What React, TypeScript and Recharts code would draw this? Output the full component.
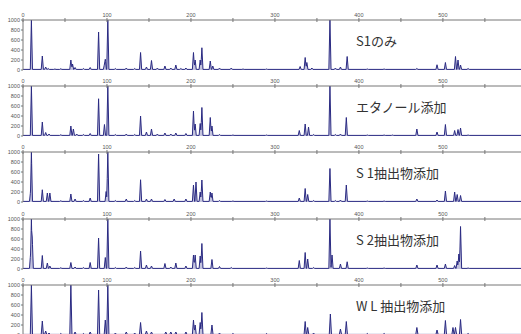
import { ComposedChart, Area, XAxis, YAxis } from 'recharts'

// peak lists: [retention position, height]
const s1OnlyPeaks: [number, number][] = [
  [10, 1000], [23, 280], [27, 60], [30, 30], [38, 20], [45, 25], [57, 200], [59, 120], [62, 50],
  [72, 30], [80, 50], [90, 760], [97, 120], [98, 215], [101, 1000], [110, 30], [123, 40], [133, 30],
  [140, 350], [147, 60], [153, 190], [160, 40], [169, 80], [176, 40], [182, 100], [188, 30], [194, 40],
  [203, 350], [205, 200], [211, 200], [213, 445], [223, 180], [226, 80], [234, 40], [248, 40], [262, 20],
  [290, 20], [330, 70], [336, 250], [338, 150], [344, 40], [365.5, 1000], [372, 40], [378, 60],
  [386, 270], [410, 20], [430, 20], [469, 30], [493, 105], [503, 150], [515, 270], [518, 200],
  [521, 100], [530, 30],
]

const ethanolPeaks: [number, number][] = [
  [10, 1000], [23, 280], [27, 70], [31, 40], [45, 25], [57, 200], [60, 140], [64, 40], [72, 30],
  [80, 50], [90, 745], [97, 230], [101, 1000], [110, 30], [123, 40], [133, 30], [140, 400], [147, 80],
  [153, 140], [160, 40], [169, 60], [176, 40], [182, 60], [194, 50], [203, 500], [205, 240], [211, 250],
  [213, 570], [223, 370], [225, 200], [234, 30], [250, 20], [290, 20], [329, 110], [336, 240], [340, 180],
  [346, 30], [365.5, 1000], [372, 30], [378, 40], [385, 370], [410, 20], [430, 20], [440, 20], [469, 140],
  [493, 80], [503, 230], [514, 110], [518, 130], [521, 160], [530, 20],
]

const s1ExtractPeaks: [number, number][] = [
  [9, 210], [10, 1000], [23, 245], [29, 180], [32, 180], [45, 25], [57, 160], [62, 60], [72, 30],
  [80, 80], [90, 960], [99, 210], [101, 1000], [110, 30], [123, 60], [133, 30], [140, 445], [147, 60],
  [153, 60], [169, 50], [180, 60], [194, 60], [203, 340], [206, 400], [211, 200], [213, 440], [223, 200],
  [225, 180], [234, 30], [250, 20], [290, 20], [329, 80], [336, 270], [339, 150], [346, 30], [365.5, 670],
  [372, 30], [378, 40], [385, 340], [410, 20], [430, 20], [469, 60], [493, 40], [503, 220], [514, 200],
  [517, 150], [521, 130],
]

const s2ExtractPeaks: [number, number][] = [
  [9, 300], [10, 1000], [11, 640], [23, 270], [29, 120], [32, 60], [45, 25], [57, 130], [62, 40],
  [72, 30], [80, 130], [90, 620], [98, 230], [101, 1000], [110, 30], [123, 40], [133, 30], [140, 360],
  [147, 80], [153, 60], [169, 110], [176, 40], [182, 120], [194, 60], [203, 280], [205, 280], [211, 260],
  [213, 510], [225, 190], [234, 50], [248, 30], [290, 20], [329, 170], [336, 330], [339, 200], [346, 30],
  [365.5, 1000], [368, 280], [378, 100], [386, 145], [410, 20], [430, 20], [469, 80], [493, 80],
  [503, 100], [514, 70], [517, 160], [519, 300], [521, 850], [530, 20],
]

const wlExtractPeaks: [number, number][] = [
  [10, 1000], [23, 280], [27, 80], [31, 40], [45, 30], [57, 1000], [62, 60], [72, 30], [80, 60],
  [90, 900], [98, 300], [101, 1000], [110, 40], [123, 60], [133, 40], [140, 250], [147, 80], [153, 60],
  [170, 60], [176, 60], [182, 60], [194, 60], [203, 300], [205, 200], [211, 250], [213, 450], [225, 200],
  [234, 40], [250, 30], [290, 30], [336, 270], [339, 150], [346, 40], [366, 420], [378, 120], [385, 270],
  [410, 30], [430, 30], [469, 150], [493, 100], [503, 290], [512, 150], [515, 150], [521, 310], [530, 30],
]

const panelLabels = ['S1のみ', 'エタノール添加', 'S 1抽出物添加', 'S 2抽出物添加', 'W L 抽出物添加']
const panelPeaks = [s1OnlyPeaks, ethanolPeaks, s1ExtractPeaks, s2ExtractPeaks, wlExtractPeaks]

const xTicks = [0, 50, 100, 150, 200, 250, 300, 350, 400, 450, 500, 550]
const yTicks = [0, 200, 400, 600, 800, 1000]

const X_MAX = 593
const BASE = 12
const HALF = 1.3
const PANEL_TOPS = [0, 66, 132, 199, 265]

// turn a peak list into a trace: each peak is a narrow spike on the baseline
function toTrace(peaks: [number, number][]) {
  const xs = new Set<number>([0, X_MAX])
  peaks.forEach(([p]) => {
    xs.add(p - HALF)
    xs.add(p)
    xs.add(p + HALF)
  })
  return [...xs]
    .sort((a, b) => a - b)
    .map((t) => {
      let v = BASE
      peaks.forEach(([p, h]) => {
        const d = Math.abs(t - p)
        if (d < HALF) v = Math.max(v, BASE + (h - BASE) * (1 - d / HALF))
      })
      return { t, v }
    })
}

function XTick({ x, y, payload }: any) {
  return (
    <g>
      <line x1={x} x2={x} y1={y - 2} y2={y + 2} stroke="#777" />
      {payload.value % 100 === 0 && (
        <text x={x} y={y - 3} textAnchor="middle" fontSize={5.5} fill="#555" fontFamily="Liberation Sans">
          {payload.value}
        </text>
      )}
    </g>
  )
}

function Panel({ peaks, label, top }: { peaks: [number, number][]; label: string; top: number }) {
  const data = toTrace(peaks)
  return (
    <div style={{ position: 'absolute', left: 0, top, width: 521, height: 74 }}>
      <ComposedChart width={521} height={74} data={data} margin={{ top: 0, right: 0, bottom: 4, left: 0 }}>
        <XAxis
          type="number"
          dataKey="t"
          orientation="top"
          domain={[0, X_MAX]}
          ticks={xTicks}
          interval={0}
          height={20}
          tickSize={0}
          tickMargin={0}
          tick={<XTick />}
          axisLine={{ stroke: '#777' }}
          allowDataOverflow
        />
        <YAxis
          type="number"
          domain={[0, 1000]}
          ticks={yTicks}
          width={23}
          tickSize={2}
          tickMargin={1}
          interval={0}
          tick={{ fontSize: 5.5, fill: '#555', fontFamily: 'Liberation Sans' }}
          axisLine={{ stroke: '#777' }}
          tickLine={{ stroke: '#777' }}
          allowDataOverflow
        />
        <Area
          type="linear"
          dataKey="v"
          stroke="#2a2a82"
          strokeWidth={1}
          fill="#b4b4d4"
          fillOpacity={0.8}
          dot={false}
          activeDot={false}
          isAnimationActive={false}
        />
      </ComposedChart>
      <div
        style={{
          position: 'absolute',
          left: 356,
          top: 34,
          fontSize: 13,
          lineHeight: 1,
          color: '#333',
          fontFamily: '"Noto Sans CJK JP", sans-serif',
          whiteSpace: 'nowrap',
        }}
      >
        {label}
      </div>
    </div>
  )
}

export default function App() {
  return (
    <div
      style={{
        position: 'absolute',
        left: 0,
        top: 0,
        width: 521,
        height: 334,
        overflow: 'hidden',
        background: '#fff',
      }}
    >
      {panelPeaks.map((p, i) => (
        <Panel key={i} peaks={p} label={panelLabels[i]} top={PANEL_TOPS[i]} />
      ))}
    </div>
  )
}
